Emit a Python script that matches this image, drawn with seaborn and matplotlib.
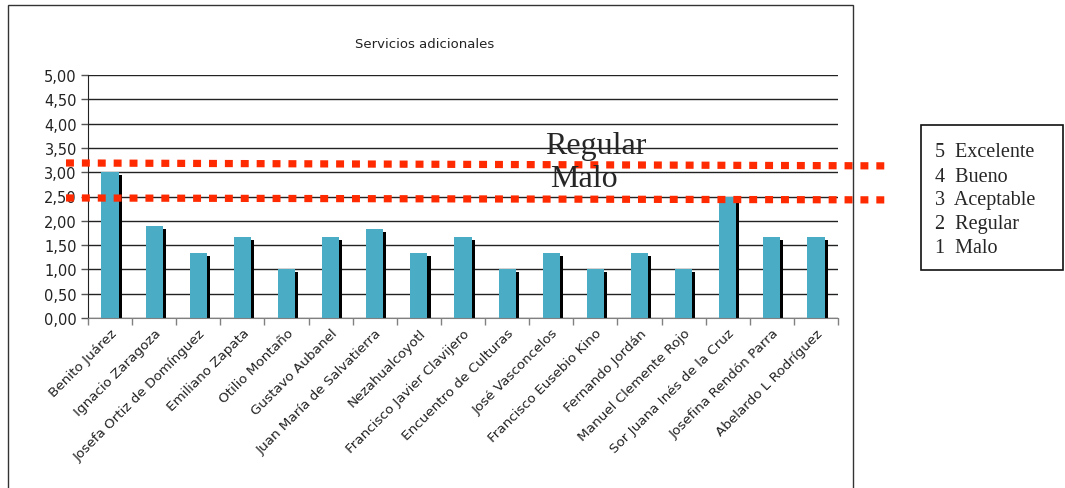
import matplotlib
matplotlib.use("Agg")
import matplotlib.pyplot as plt
import matplotlib.patheffects as pe
from matplotlib.patches import Rectangle
from matplotlib.ticker import FuncFormatter, MultipleLocator, FixedLocator
import seaborn as sns

# Data
escuelas = [
    "Benito Juárez", "Ignacio Zaragoza", "Josefa Ortiz de Domínguez",
    "Emiliano Zapata", "Otilio Montaño", "Gustavo Aubanel",
    "Juan María de Salvatierra", "Nezahualcoyotl", "Francisco Javier Clavijero",
    "Encuentro de Culturas", "José Vasconcelos", "Francisco Eusebio Kino",
    "Fernando Jordán", "Manuel Clemente Rojo", "Sor Juana Inés de la Cruz",
    "Josefina Rendón Parra", "Abelardo L Rodríguez",
]
calificacion = [3.00, 1.90, 1.33, 1.67, 1.00, 1.67, 1.83, 1.33, 1.67,
                1.00, 1.33, 1.00, 1.33, 1.00, 2.50, 1.67, 1.67]
titulo = "Servicios adicionales"
escala = ["5  Excelente", "4  Bueno", "3  Aceptable", "2  Regular", "1  Malo"]
# Reference levels (start, end) drawn as dotted lines
nivel_regular = (3.19, 3.13)
nivel_malo = (2.47, 2.43)

sns.set_style("white")
plt.rcParams["font.family"] = ["DejaVu Sans"]

W, H = 1065, 489
fig = plt.figure(figsize=(W / 100, H / 100), dpi=100)
ax = fig.add_axes([88 / W, 1 - 319 / H, 750 / W, 243 / H])

sns.barplot(x=escuelas, y=calificacion, color="#4BACC6", saturation=1,
            width=0.39, ax=ax, zorder=3)
for bar in ax.patches:
    bar.set_path_effects([pe.SimplePatchShadow(offset=(2.2, -2.2),
                                               shadow_rgbFace="black", alpha=1),
                          pe.Normal()])
    bar.set_edgecolor("none")

ax.set_ylim(0, 5)
ax.set_xlim(-0.5, len(escuelas) - 0.5)
ax.yaxis.set_major_locator(MultipleLocator(0.5))
ax.yaxis.set_major_formatter(FuncFormatter(lambda v, _: f"{v:.2f}".replace(".", ",")))
ax.grid(axis="y", color="#222222", linewidth=1, zorder=0)
ax.set_axisbelow(True)

for s in ["top", "right"]:
    ax.spines[s].set_visible(False)
ax.spines["left"].set_color("#222222")
ax.spines["bottom"].set_color("#808080")
ax.spines["left"].set_zorder(4)
ax.spines["bottom"].set_zorder(4)

ax.tick_params(axis="y", which="major", length=5, width=1, color="#555555",
               labelsize=10.5, labelcolor="#222222", pad=3, left=True)
ax.tick_params(axis="x", which="major", length=0, labelsize=9.7, labelcolor="#222222", pad=6)
ax.xaxis.set_minor_locator(FixedLocator([i - 0.5 for i in range(len(escuelas) + 1)]))
ax.tick_params(axis="x", which="minor", length=5, width=1, color="#808080", bottom=True)
plt.setp(ax.get_xticklabels(), rotation=45, ha="right", rotation_mode="anchor")
ax.set_xlabel("")
ax.set_ylabel("")

fig.text(425 / W, 1 - 45 / H, titulo, fontsize=9.5, color="#222222",
         ha="center", va="center")

# Dotted reference lines extending past the plot area
x0, x1 = -0.5 - 22 / 750 * len(escuelas), -0.5 + 801 / 750 * len(escuelas)
for y0, y1 in (nivel_regular, nivel_malo):
    ax.plot([x0, x1], [y0, y1], color="#FF2A00", linewidth=5.2,
            linestyle=(0, (1.1, 1.1)), solid_capstyle="butt",
            dash_capstyle="butt", clip_on=False, zorder=5)

ax.text(11.0, 3.40, "Regular", fontsize=23, family="Liberation Serif",
        ha="center", va="baseline", zorder=6)
ax.text(10.74, 2.72, "Malo", fontsize=23, family="Liberation Serif",
        ha="center", va="baseline", zorder=6)

# Chart frame
fig.add_artist(Rectangle((8 / W, -0.05), 845 / W, 1.05 - 6 / H,
                         transform=fig.transFigure, fill=False,
                         edgecolor="#333333", linewidth=1))

# Scale box
fig.add_artist(Rectangle((921 / W, 1 - 271 / H), 142 / W, 145 / H,
                         transform=fig.transFigure, fill=False,
                         edgecolor="#111111", linewidth=1.2))
for i, t in enumerate(escala):
    fig.text(935 / W, 1 - (153 + i * 24) / H, t, fontsize=14.5,
             family="Liberation Serif", va="center", ha="left")

fig.savefig("out.png", dpi=100)
